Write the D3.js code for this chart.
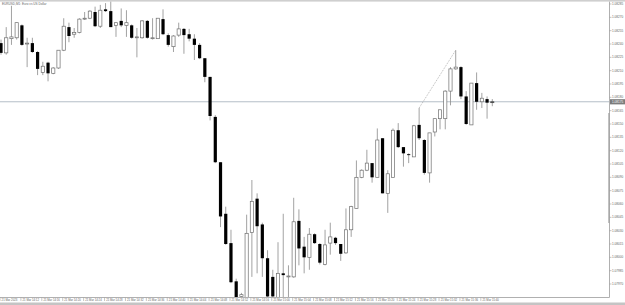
<!DOCTYPE html>
<html>
<head>
<meta charset="utf-8">
<title>EURUSD M1</title>
<script src="https://d3js.org/d3.v7.min.js"></script>
<style>
  body { margin: 0; background: #fff; }
  svg { display: block; font-family: "Liberation Sans", Arial, sans-serif; }
</style>
</head>
<body>
<div id="chart"></div>
<script>
const chartTitle = "EURUSD,M1:  Euro vs US Dollar";

// one bar per minute, 21 Mar 2023 from 14:08
const opens = [
  1.08241, 1.08230, 1.08246, 1.08247, 1.08261, 1.08240, 1.08241, 1.08231, 1.08208, 1.08219,
  1.08207, 1.08213, 1.08233, 1.08259, 1.08251, 1.08253, 1.08268, 1.08269, 1.08276, 1.08260,
  1.08279, 1.08277, 1.08261, 1.08266, 1.08261, 1.08261, 1.08247, 1.08247, 1.08266, 1.08246,
  1.08246, 1.08268, 1.08250, 1.08237, 1.08250, 1.08257, 1.08251, 1.08246, 1.08239, 1.08224,
  1.08203, 1.08158, 1.08107, 1.08049, 1.08016, 1.07973, 1.07956, 1.07955, 1.08028, 1.08066,
  1.08037, 1.07999, 1.07978, 1.07955, 1.07982, 1.07978, 1.07978, 1.08041, 1.08012, 1.08000,
  1.08026, 1.08015, 1.07992, 1.08016, 1.08022, 1.08015, 1.08005, 1.08031, 1.08055, 1.08090,
  1.08098, 1.08106, 1.08090, 1.08134, 1.08072, 1.08090, 1.08143, 1.08124, 1.08116, 1.08113,
  1.08149, 1.08132, 1.08095, 1.08141, 1.08156, 1.08156, 1.08187, 1.08212, 1.08214, 1.08181,
  1.08149, 1.08196, 1.08175, 1.08178, 1.08175
];
const highs = [
  1.08245, 1.08259, 1.08283, 1.08264, 1.08262, 1.08247, 1.08247, 1.08232, 1.08220, 1.08220,
  1.08214, 1.08233, 1.08269, 1.08264, 1.08258, 1.08269, 1.08276, 1.08278, 1.08282, 1.08284,
  1.08286, 1.08288, 1.08264, 1.08280, 1.08278, 1.08262, 1.08258, 1.08267, 1.08267, 1.08269,
  1.08269, 1.08279, 1.08252, 1.08250, 1.08264, 1.08258, 1.08257, 1.08251, 1.08241, 1.08224,
  1.08203, 1.08160, 1.08107, 1.08057, 1.08031, 1.07976, 1.07960, 1.08048, 1.08087, 1.08072,
  1.08039, 1.08008, 1.07986, 1.08017, 1.08049, 1.07991, 1.08067, 1.08054, 1.08023, 1.08033,
  1.08027, 1.08016, 1.08031, 1.08039, 1.08023, 1.08015, 1.08055, 1.08058, 1.08109, 1.08099,
  1.08121, 1.08106, 1.08145, 1.08134, 1.08098, 1.08145, 1.08151, 1.08124, 1.08117, 1.08149,
  1.08168, 1.08133, 1.08140, 1.08156, 1.08166, 1.08188, 1.08214, 1.08233, 1.08215, 1.08187,
  1.08196, 1.08208, 1.08185, 1.08181, 1.08178
];
const lows = [
  1.08228, 1.08228, 1.08239, 1.08245, 1.08238, 1.08214, 1.08230, 1.08205, 1.08205, 1.08198,
  1.08206, 1.08212, 1.08232, 1.08242, 1.08247, 1.08252, 1.08267, 1.08268, 1.08259, 1.08258,
  1.08276, 1.08259, 1.08248, 1.08259, 1.08248, 1.08246, 1.08225, 1.08246, 1.08246, 1.08245,
  1.08246, 1.08250, 1.08237, 1.08231, 1.08248, 1.08229, 1.08243, 1.08222, 1.08223, 1.08197,
  1.08154, 1.08106, 1.08034, 1.08014, 1.07971, 1.07955, 1.07955, 1.07955, 1.07978, 1.07982,
  1.07978, 1.07955, 1.07955, 1.07955, 1.07955, 1.07955, 1.07977, 1.07991, 1.07982, 1.07986,
  1.08015, 1.07992, 1.07991, 1.08003, 1.08014, 1.07996, 1.08004, 1.08023, 1.08055, 1.08089,
  1.08097, 1.08084, 1.08090, 1.08072, 1.08050, 1.08090, 1.08123, 1.08102, 1.08106, 1.08113,
  1.08132, 1.08093, 1.08084, 1.08136, 1.08144, 1.08144, 1.08171, 1.08211, 1.08178, 1.08149,
  1.08149, 1.08166, 1.08168, 1.08156, 1.08170
];
const closes = [
  1.08230, 1.08247, 1.08248, 1.08264, 1.08239, 1.08241, 1.08231, 1.08212, 1.08215, 1.08207,
  1.08213, 1.08233, 1.08260, 1.08249, 1.08253, 1.08268, 1.08269, 1.08277, 1.08260, 1.08278,
  1.08277, 1.08259, 1.08264, 1.08261, 1.08264, 1.08247, 1.08248, 1.08266, 1.08247, 1.08247,
  1.08269, 1.08251, 1.08239, 1.08249, 1.08257, 1.08250, 1.08246, 1.08239, 1.08224, 1.08203,
  1.08159, 1.08107, 1.08046, 1.08015, 1.07972, 1.07955, 1.07958, 1.08027, 1.08063, 1.08035,
  1.07999, 1.07956, 1.07956, 1.07982, 1.07980, 1.07979, 1.08040, 1.08010, 1.08000, 1.08026,
  1.08016, 1.07994, 1.08014, 1.08023, 1.08016, 1.08004, 1.08031, 1.08057, 1.08090, 1.08098,
  1.08106, 1.08090, 1.08132, 1.08072, 1.08094, 1.08143, 1.08124, 1.08117, 1.08115, 1.08148,
  1.08134, 1.08095, 1.08140, 1.08156, 1.08166, 1.08187, 1.08212, 1.08214, 1.08181, 1.08150,
  1.08196, 1.08175, 1.08179, 1.08174, 1.08175
];

const priceTicks = [
  1.08285, 1.08270, 1.08255, 1.08240, 1.08225, 1.08210, 1.08195, 1.08180, 1.08165, 1.08150, 1.08135,
  1.08120, 1.08105, 1.08090, 1.08075, 1.08060, 1.08045, 1.08030, 1.08015, 1.08000, 1.07985, 1.07970
];
const timeTickBars = [0, 4, 8, 12, 16, 20, 24, 28, 32, 36, 40, 44, 48, 52, 56, 60, 64, 68, 72, 76, 80, 84, 88, 92];
const timeTickLabels = [
  "21 Mar 2023", "21 Mar 14:12", "21 Mar 14:16", "21 Mar 14:20", "21 Mar 14:24", "21 Mar 14:28",
  "21 Mar 14:32", "21 Mar 14:36", "21 Mar 14:40", "21 Mar 14:44", "21 Mar 14:48", "21 Mar 14:52",
  "21 Mar 14:56", "21 Mar 15:00", "21 Mar 15:04", "21 Mar 15:08", "21 Mar 15:12", "21 Mar 15:16",
  "21 Mar 15:20", "21 Mar 15:24", "21 Mar 15:28", "21 Mar 15:32", "21 Mar 15:36", "21 Mar 15:40"
];
const bidPrice = 1.08175;
const trendBars = [80, 87]; // dotted line between these two highs

const W = 625, H = 305;
const plotRight = 609.5, plotBottom = 297.5;

const bars = opens.map((o, i) => ({ i, o, h: highs[i], l: lows[i], c: closes[i] }));

const x = d3.scaleLinear().domain([0, 94]).range([1, 492.3]);
const y = d3.scaleLinear().domain([1.07970, 1.08285]).range([284, 4]);

const svg = d3.select("#chart").append("svg")
  .attr("width", W).attr("height", H);

svg.append("rect").attr("width", W).attr("height", H).attr("fill", "#fff");

// window bands
svg.append("rect").attr("x", 0).attr("y", 0).attr("width", W).attr("height", 1.6).attr("fill", "#cfcfcf");
svg.append("rect").attr("x", 0).attr("y", 302.5).attr("width", W).attr("height", 2.5).attr("fill", "#c4c4c4");

const plot = svg.append("g");
plot.append("defs").append("clipPath").attr("id", "clip")
  .append("rect").attr("x", 0).attr("y", 1.6).attr("width", plotRight).attr("height", plotBottom - 1.6);
const marks = plot.append("g").attr("clip-path", "url(#clip)");

// bid line
marks.append("line")
  .attr("x1", 0).attr("x2", plotRight)
  .attr("y1", y(bidPrice)).attr("y2", y(bidPrice))
  .attr("stroke", "#b4bec8").attr("stroke-width", 1);

// trend line
marks.append("line")
  .attr("x1", x(trendBars[0])).attr("y1", y(highs[trendBars[0]]))
  .attr("x2", x(trendBars[1])).attr("y2", y(highs[trendBars[1]]))
  .attr("stroke", "#9a9a9a").attr("stroke-width", 0.7)
  .attr("stroke-dasharray", "1,1");

// wicks
marks.selectAll("line.wick").data(bars).join("line")
  .attr("class", "wick")
  .attr("x1", d => x(d.i)).attr("x2", d => x(d.i))
  .attr("y1", d => y(d.h)).attr("y2", d => y(d.l))
  .attr("stroke", "#8a8a8a").attr("stroke-width", 0.8);

// bodies
const bw = 3.2;
marks.selectAll("rect.body").data(bars).join("rect")
  .attr("class", "body")
  .attr("x", d => x(d.i) - bw / 2)
  .attr("width", bw)
  .attr("y", d => y(Math.max(d.o, d.c)))
  .attr("height", d => Math.max(0.9, Math.abs(y(d.o) - y(d.c))))
  .attr("fill", d => d.c > d.o ? "#fff" : "#000")
  .attr("stroke", d => d.c > d.o ? "#6e6e6e" : (d.c === d.o ? "#555" : "none"))
  .attr("stroke-width", 0.7);

// axes frame
svg.append("line").attr("x1", plotRight).attr("x2", plotRight).attr("y1", 1.6).attr("y2", plotBottom)
  .attr("stroke", "#b0b0b0").attr("stroke-width", 1);
svg.append("line").attr("x1", 0).attr("x2", plotRight).attr("y1", plotBottom).attr("y2", plotBottom)
  .attr("stroke", "#b0b0b0").attr("stroke-width", 1);
svg.append("rect").attr("x", 608.3).attr("y", 113).attr("width", 1.6).attr("height", 110)
  .attr("fill", "#a8a8a8");

// price scale
const pt = svg.append("g");
pt.selectAll("line").data(priceTicks).join("line")
  .attr("x1", plotRight).attr("x2", plotRight + 2)
  .attr("y1", d => y(d)).attr("y2", d => y(d))
  .attr("stroke", "#9a9a9a").attr("stroke-width", 0.6);
pt.selectAll("text").data(priceTicks).join("text")
  .attr("x", 612).attr("y", d => y(d) + 1.1)
  .attr("font-size", 3.1).attr("fill", "#666")
  .text(d => d.toFixed(5));

// bid price box
svg.append("rect").attr("x", 610).attr("y", y(bidPrice) - 2.6).attr("width", 15).attr("height", 5.2)
  .attr("fill", "#7c7c7c");
svg.append("text").attr("x", 612).attr("y", y(bidPrice) + 1.1)
  .attr("font-size", 3.1).attr("fill", "#fff").text(bidPrice.toFixed(5));

// time scale
const tt = svg.append("g");
tt.selectAll("line").data(timeTickBars).join("line")
  .attr("x1", d => x(d) - 1).attr("x2", d => x(d) - 1)
  .attr("y1", plotBottom).attr("y2", plotBottom + 3.5)
  .attr("stroke", "#a0a0a0").attr("stroke-width", 0.6);
tt.selectAll("text").data(timeTickBars).join("text")
  .attr("x", d => Math.max(1, x(d) + 0.6)).attr("y", 300.6)
  .attr("font-size", 2.8).attr("fill", "#666")
  .text((d, k) => timeTickLabels[k]);

// title
svg.append("text").attr("x", 2).attr("y", 5)
  .attr("font-size", 3.1).attr("fill", "#666")
  .text(chartTitle);
</script>
</body>
</html>
